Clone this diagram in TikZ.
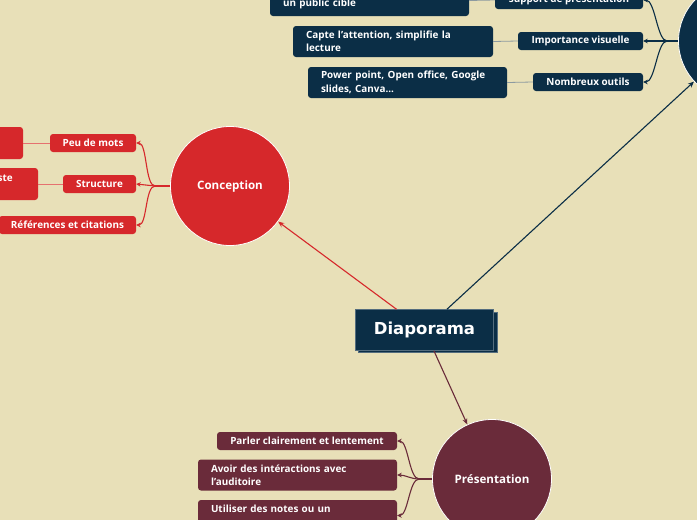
\documentclass[tikz,border=0pt]{standalone}
\usepackage{fontspec}
\setmainfont{Open Sans}
\newfontfamily\diafont{DejaVu Sans}
\usetikzlibrary{arrows.meta}
\definecolor{bg}{HTML}{E8E0B8}
\definecolor{navy}{HTML}{0B2E46}
\definecolor{cred}{HTML}{D6282B}
\definecolor{maroon}{HTML}{6A2B3A}
\definecolor{lred}{HTML}{E5716F}
\definecolor{lnavy}{HTML}{8C9AA0}
\definecolor{lmaroon}{HTML}{A27480}
\begin{document}
\begin{tikzpicture}[x=1pt,y=-1pt,
 box/.style={rounded corners=3pt, fill=#1, text=white, inner sep=0pt, font=\fontsize{9.9}{13.5}\selectfont\bfseries},
 cbox/.style={box=#1, minimum height=18pt, align=center},
 gbox/.style={box=#1, minimum height=31pt, align=left, inner xsep=13pt},
 bubble/.style={circle, fill=#1, draw=white, line width=0.8pt, text=white, minimum size=119pt, inner sep=0pt, font=\fontsize{11.6}{14}\selectfont\bfseries},
 link/.style={draw=#1, line width=1.1pt, -{Stealth[length=6pt,width=5pt]}},
 branch/.style={draw=#1, line width=1.1pt, -{Stealth[length=4.5pt,width=4.5pt]}},
 trunk/.style={draw=#1, line width=1.1pt},
 glink/.style={draw=#1, line width=0.8pt},
]
\fill[bg] (0,0) rectangle (697,520);
\useasboundingbox (0,0) rectangle (697,520);
\clip (0,0) rectangle (697,520);

% circles
\node[bubble=cred] (conc) at (230,186) {Conception};
\node[bubble=maroon] (pres) at (492,479) {Présentation};
\node[bubble=navy] (topc) at (738,41) {};

% central node
\node[fill=navy, draw=navy!70!white, line width=0.5pt, minimum width=139pt, minimum height=40pt, inner sep=0pt] (diash) at (427.5,332) {};
\node[fill=navy, draw=navy!70!white, line width=0.5pt, minimum width=138pt, minimum height=41pt, inner sep=0pt, text=white, font=\diafont\bfseries\fontsize{16.5}{19}\selectfont] (dia) at (424.5,330) {Diaporama};

% main links
\draw[link=cred] (dia) -- (conc);
\draw[link=navy] (dia) -- (topc);
\draw[link=maroon] (dia) -- (pres);

% navy branch
\node[cbox=navy, minimum width=148pt] (sup) at (569,0) {support de présentation};
\node[cbox=navy, minimum width=125pt] (imp) at (580.5,41) {Importance visuelle};
\node[cbox=navy, minimum width=110pt] (nom) at (588,82) {Nombreux outils};
\node[gbox=navy, text width=173pt] (gsup) at (369.5,0.5) {\mbox{}\\un public cible};
\node[gbox=navy, text width=174pt] (gimp) at (393,41.5) {Capte l'attention, simplifie la\\lecture};
\node[gbox=navy, text width=173pt] (gnom) at (407.5,82.5) {Power point, Open office, Google\\slides, Canva...};
\draw[glink=lnavy] (gsup.east) -- (sup.west);
\draw[glink=lnavy] (gimp.east) -- (imp.west);
\draw[glink=lnavy] (gnom.east) -- (nom.west);
\draw[trunk=navy] (topc.west) -- ++(-11,0) coordinate (nj);
\draw[branch=navy] (nj) .. controls +(-10,0) and +(12,0) .. (sup.east);
\draw[branch=navy] (nj) -- (imp.east);
\draw[branch=navy] (nj) .. controls +(-10,0) and +(12,0) .. (nom.east);

% red branch
\node[cbox=cred, minimum width=86pt] (peu) at (93,143) {Peu de mots};
\node[cbox=cred, minimum width=73pt] (str) at (99.5,184) {Structure};
\node[cbox=cred, minimum width=137pt] (ref) at (67.5,225) {Références et citations};
\node[box=cred, minimum width=150pt, minimum height=32pt] (gpeu) at (-52,143) {};
\node[box=cred, minimum width=150pt, minimum height=32pt] (gstr) at (-37,184) {};
\node[text=white, font=\fontsize{9.9}{13.5}\selectfont\bfseries, inner sep=0pt, anchor=east] (gstrt) at (13,178) {ste};
\draw[glink=lred] (gpeu.east) -- (peu.west);
\draw[glink=lred] (gstr.east) -- (str.west);
\draw[trunk=cred] (conc.west) -- ++(-15,0) coordinate (cj);
\draw[branch=cred] (cj) .. controls +(-10,0) and +(11,0) .. (peu.east);
\draw[branch=cred] (cj) -- (str.east);
\draw[branch=cred] (cj) .. controls +(-10,0) and +(11,0) .. (ref.east);

% maroon branch
\node[cbox=maroon, minimum width=180pt] (par) at (307,441) {Parler clairement et lentement};
\node[gbox=maroon, text width=173pt] (avo) at (297.5,475) {Avoir des intéractions avec\\l'auditoire};
\node[gbox=maroon, text width=173pt] (uti) at (297.5,515.5) {Utiliser des notes ou un\\\mbox{}};
\draw[trunk=maroon] (pres.west) -- ++(-13,0) coordinate (pj);
\draw[branch=maroon] (pj) .. controls +(-10,0) and +(11,0) .. (par.east);
\draw[branch=maroon] (pj) .. controls +(-8,0) and +(8,0) .. (avo.east);
\draw[branch=maroon] (pj) .. controls +(-10,0) and +(11,0) .. (uti.east);
\end{tikzpicture}
\end{document}
